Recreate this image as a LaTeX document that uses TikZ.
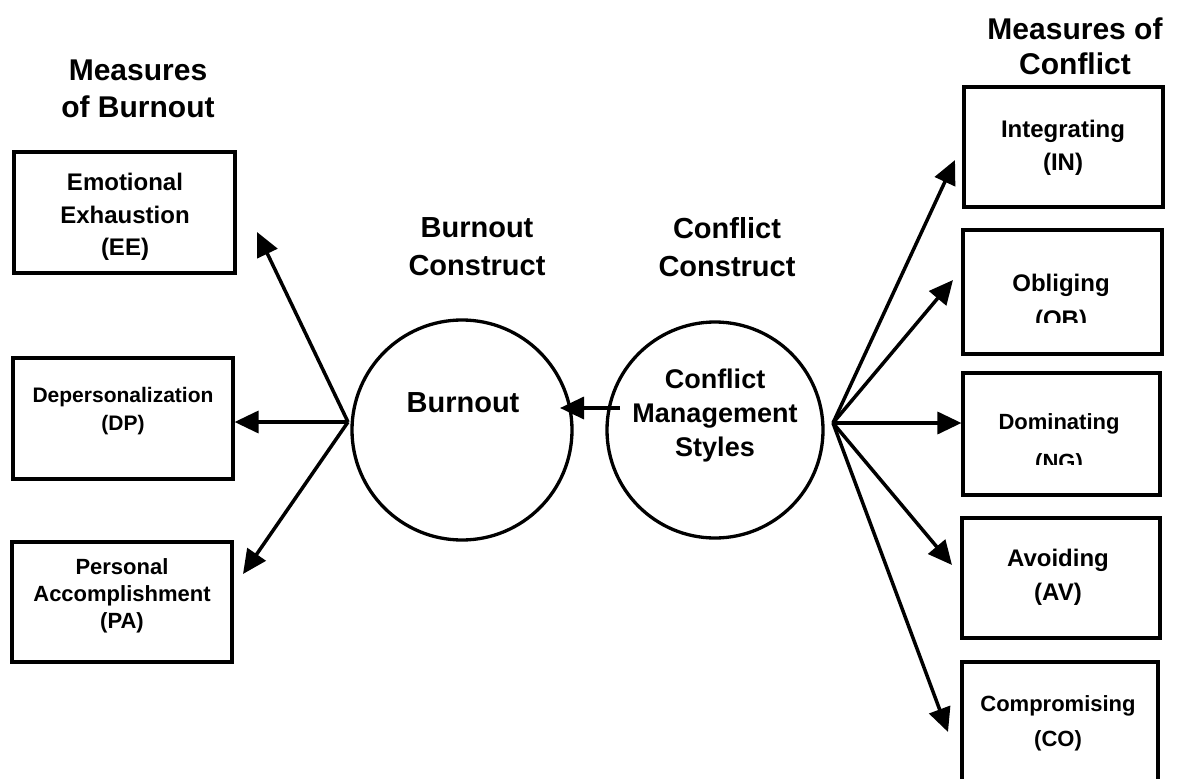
\documentclass[tikz,border=0pt]{standalone}
\usepackage{fontspec}
\setmainfont{Liberation Sans}
\usetikzlibrary{arrows.meta}

\begin{document}
\begin{tikzpicture}[x=1pt,y=-1pt,
  measure/.style={draw, line width=3.1pt, inner sep=0pt},
  construct/.style={draw, circle, line width=3.3pt, inner sep=0pt},
  txt/.style 2 args={align=center, inner sep=0pt, font=\fontsize{#1}{#2}\selectfont\bfseries},
  conn/.style={line width=3.5pt, -{Triangle[length=24pt,width=22pt]}}]
\useasboundingbox (0,0) rectangle (1186,779);
\clip (0,0) rectangle (1186,779);

% headings
\node[txt={30}{37}] (hB) at (138,89) {Measures\\of Burnout};
\node[txt={30}{35}] (hC) at (1075,46) {Measures of\\Conflict};
\node[txt={29}{38}] (hBC) at (477,247) {Burnout\\Construct};
\node[txt={29}{38}] (hCC) at (727,247) {Conflict\\Construct};

% constructs
\node[construct, minimum size=220pt] (B) at (462,430) {};
\node[txt={29}{34}] (Btxt) at (463,403) {Burnout};
\node[construct, minimum size=216pt] (C) at (715,430) {};
\node[txt={27}{34}] (Ctxt) at (715,416) {Conflict\\Management\\Styles};

% burnout measures
\node[measure, minimum width=221pt, minimum height=121pt] (EE) at (124.5,212.5) {};
\node[txt={24}{32.5}] (EEt) at (125,217) {Emotional\\Exhaustion\\(EE)};
\node[measure, minimum width=220pt, minimum height=121pt] (DP) at (123,418.5) {};
\node[txt={21}{28}] (DPt) at (123,411) {Depersonalization\\(DP)};
\node[measure, minimum width=220pt, minimum height=120pt] (PA) at (122,602) {};
\node[txt={22}{27}] (PAt) at (122,596) {Personal\\Accomplishment\\(PA)};

% conflict measures
\node[measure, minimum width=199pt, minimum height=120pt] (IN) at (1063.5,147) {};
\node[txt={24}{33}] (INt) at (1063,148) {Integrating\\(IN)};
\node[measure, minimum width=199pt, minimum height=124pt] (OB) at (1062.5,292) {};
\node[txt={24}{24}] (OBt) at (1061,285) {Obliging};
\node[measure, minimum width=197pt, minimum height=122pt] (NG) at (1061.5,434) {};
\node[txt={22}{22}] (NGt) at (1059,424) {Dominating};
\node[measure, minimum width=198pt, minimum height=120pt] (AV) at (1061,578) {};
\node[txt={24}{34}] (AVt) at (1058,577) {Avoiding\\(AV)};
\node[measure, minimum width=196pt, minimum height=122pt] (CO) at (1060,723) {};
\node[txt={22}{35}] (COt) at (1058,723) {Compromising\\(CO)};

% abbreviations cut off at their lower half
\begin{scope}
  \clip (965,300) rectangle (1160,322);
  \node[txt={24}{24}, anchor=north] (OBa) at (1061,310) {(OB)};
\end{scope}
\begin{scope}
  \clip (965,445) rectangle (1158,464);
  \node[txt={22}{22}, anchor=north] (NGa) at (1059,453) {(NG)};
\end{scope}

% connector ends
\coordinate (L) at (348,422);
\coordinate (R) at (833,423);
\coordinate (tEE) at (257,232);
\coordinate (tPA) at (243,574);
\coordinate (tIN) at (955,160);
\coordinate (tOB) at (953,280);
\coordinate (tAV) at (952,565);
\coordinate (tCO) at (948,732);
\coordinate (m) at (620,408);
\coordinate (tB) at (560,408);

% connectors
\draw[conn] (L) -- (tEE);
\draw[conn] (L) -- (L -| DP.east);
\draw[conn] (L) -- (tPA);
\draw[conn] (m) -- (tB);
\draw[conn] (R) -- (tIN);
\draw[conn] (R) -- (tOB);
\draw[conn] (R) -- (R -| NG.west);
\draw[conn] (R) -- (tAV);
\draw[conn] (R) -- (tCO);
\end{tikzpicture}
\end{document}
